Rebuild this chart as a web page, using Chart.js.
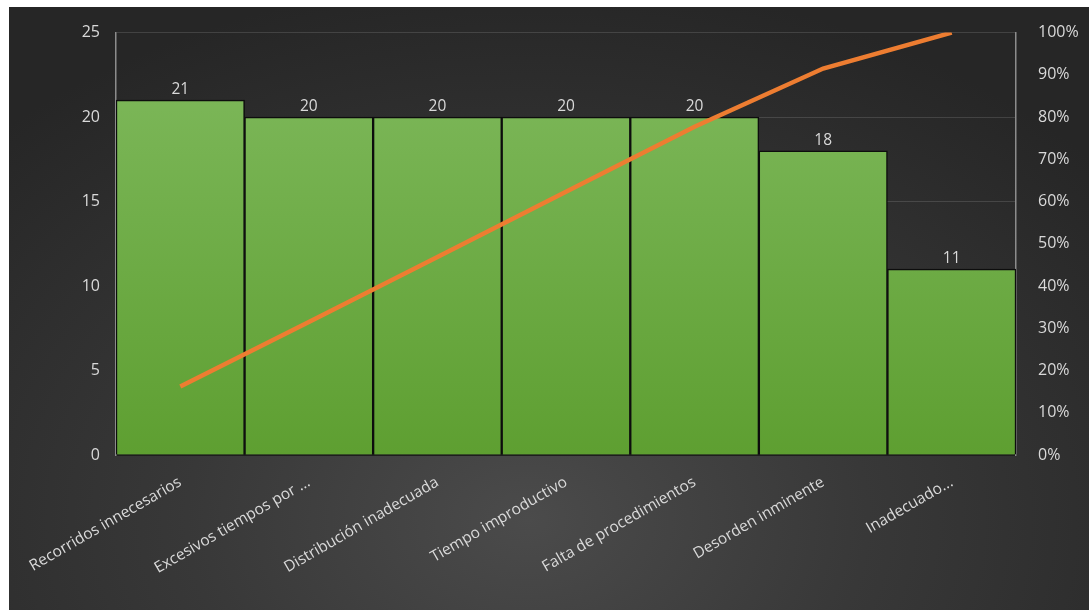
<!DOCTYPE html>
<html>
<head>
<meta charset="utf-8">
<script src="https://cdn.jsdelivr.net/npm/chart.js@4"></script>
<style>
  html, body { margin: 0; padding: 0; background: #fff; }
  #wrap {
    position: absolute; left: 9px; top: 7px; width: 1080px; height: 603px;
    background: radial-gradient(ellipse 70% 90% at 48% 85%, #4b4b4b 0%, #383838 45%, #262626 100%);
  }
</style>
</head>
<body>
<div id="wrap"><canvas id="chartPareto" width="1080" height="603"></canvas></div>
<script>
const categories = [
  "Recorridos innecesarios",
  "Excesivos tiempos por ...",
  "Distribución inadecuada",
  "Tiempo improductivo",
  "Falta de procedimientos",
  "Desorden inminente",
  "Inadecuado..."
];
const counts = [21, 20, 20, 20, 20, 18, 11];
const cumulativePct = [16.2, 31.5, 46.9, 62.3, 77.7, 91.5, 100];
const leftTicks = [0, 5, 10, 15, 20, 25];
const rightTicks = [0, 10, 20, 30, 40, 50, 60, 70, 80, 90, 100];

const textColor = "#d9d9d9";
const fontFamily = "'Open Sans', 'Noto Sans', sans-serif";

// etiquetas encima de las barras
const barLabels = {
  id: "barLabels",
  afterDatasetsDraw(chart) {
    const { ctx } = chart;
    const meta = chart.getDatasetMeta(1);
    ctx.save();
    ctx.fillStyle = textColor;
    ctx.font = "15.5px " + fontFamily;
    ctx.textAlign = "center";
    ctx.textBaseline = "bottom";
    meta.data.forEach((bar, i) => {
      ctx.fillText(counts[i], bar.x, bar.y - 3);
    });
    ctx.restore();
  }
};

function barGradient(context) {
  const area = context.chart.chartArea;
  if (!area) return "#6aab44";
  const g = context.chart.ctx.createLinearGradient(0, area.top, 0, area.bottom);
  g.addColorStop(0, "#80ba5e");
  g.addColorStop(1, "#5e9f31");
  return g;
}

const ctx = document.getElementById("chartPareto").getContext("2d");
new Chart(ctx, {
  data: {
    labels: categories,
    datasets: [
      {
        type: "line",
        data: cumulativePct,
        yAxisID: "y1",
        borderColor: "#ed7d31",
        borderWidth: 4.5,
        pointRadius: 0,
        tension: 0,
        order: 0
      },
      {
        type: "bar",
        data: counts,
        yAxisID: "y",
        backgroundColor: barGradient,
        borderColor: "#0d0d0d",
        borderWidth: 1.5,
        categoryPercentage: 1,
        barPercentage: 1,
        order: 1
      }
    ]
  },
  options: {
    responsive: false,
    animation: false,
    layout: { padding: { top: 22, left: 0, right: 0, bottom: 0 } },
    plugins: { legend: { display: false }, tooltip: { enabled: false } },
    scales: {
      x: {
        grid: { display: false },
        border: { color: "#1e1e1e", width: 2 },
        ticks: { color: textColor, font: { family: fontFamily, size: 15.5 }, minRotation: 30, maxRotation: 30, padding: 10, autoSkip: false },
        afterFit(s) { s.height = 155; }
      },
      y: {
        position: "left",
        min: 0, max: 25,
        afterBuildTicks(s) { s.ticks = leftTicks.map(v => ({ value: v })); },
        grid: { color: "rgba(255,255,255,0.13)", drawTicks: false },
        border: { color: "#8c8c8c", width: 1.5 },
        ticks: { color: textColor, font: { family: fontFamily, size: 16 }, padding: 16 },
        afterFit(s) { s.width = 107; }
      },
      y1: {
        position: "right",
        min: 0, max: 100,
        afterBuildTicks(s) { s.ticks = rightTicks.map(v => ({ value: v })); },
        grid: { display: false },
        border: { color: "#8c8c8c", width: 1.5 },
        ticks: { color: textColor, font: { family: fontFamily, size: 16 }, padding: 14, callback: v => v + "%" },
        afterFit(s) { s.width = 73; }
      }
    }
  },
  plugins: [barLabels]
});
</script>
</body>
</html>
